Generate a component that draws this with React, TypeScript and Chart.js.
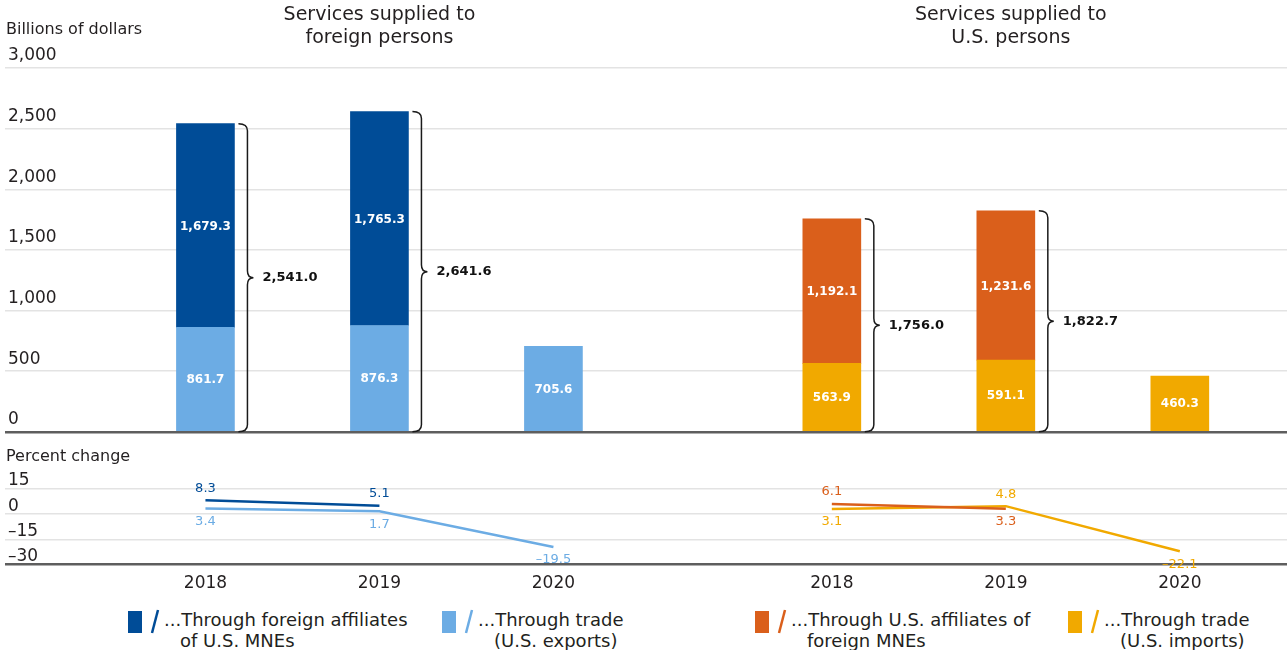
import React, { useEffect, useRef } from 'react';
import { Chart, registerables } from 'chart.js';

Chart.register(...registerables);

// ---------------- data ----------------
const years = ['2018', '2019', '2020'];
const foreignTitle = ['Services supplied to', 'foreign persons'];
const usTitle = ['Services supplied to', 'U.S. persons'];

const throughForeignAffiliates = [1679.3, 1765.3, null];
const throughExports = [861.7, 876.3, 705.6];
const throughUSAffiliates = [1192.1, 1231.6, null];
const throughImports = [563.9, 591.1, 460.3];

const foreignTotals = [2541.0, 2641.6, null];
const usTotals = [1756.0, 1822.7, null];

const foreignAffiliatesPct = [8.3, 5.1, null];
const exportsPct = [3.4, 1.7, -19.5];
const usAffiliatesPct = [6.1, 3.3, null];
const importsPct = [3.1, 4.8, -22.1];

const billionTicks = [0, 500, 1000, 1500, 2000, 2500, 3000];
const percentTicks = [-30, -15, 0, 15];

const legendLabels = [
  ['...Through foreign affiliates', 'of U.S. MNEs'],
  ['...Through trade', '(U.S. exports)'],
  ['...Through U.S. affiliates of', 'foreign MNEs'],
  ['...Through trade', '(U.S. imports)'],
];

// ---------------- style / layout ----------------
const FONT = "'DejaVu Sans', 'Open Sans', sans-serif";
const TEXT = '#231f20';
const GRID = '#e3e3e3';
const AXIS = '#5e5e5e';
const DARK_BLUE = '#004c97';
const LIGHT_BLUE = '#6cace4';
const ORANGE = '#da5f1b';
const GOLD = '#f1a900';
const legendColors = [DARK_BLUE, LIGHT_BLUE, ORANGE, GOLD];
const legendLeft = [128, 442, 755, 1068];

const GROUP_SHIFT = 3.6;
const X_MIN = -1.152;
const X_MAX = 6.216;
const xOf = (g: number, i: number) => g * GROUP_SHIFT + i;
const tickPositions = [0, 1, 2].map((i) => xOf(0, i)).concat([0, 1, 2].map((i) => xOf(1, i)));

const toPoints = (values: (number | null)[], g: number) =>
  values
    .map((v, i) => (v == null ? null : { x: xOf(g, i), y: v, i }))
    .filter((p) => p !== null) as { x: number; y: number; i: number }[];

const fmt1 = (v: number) =>
  (v < 0 ? '\u2013' : '') +
  Math.abs(v).toLocaleString('en-US', { minimumFractionDigits: 1, maximumFractionDigits: 1 });

function drawBrace(ctx: CanvasRenderingContext2D, x0: number, top: number, bottom: number) {
  const xv = x0 + 9;
  const xt = x0 + 15;
  const r = 7;
  const mid = (top + bottom) / 2;
  ctx.beginPath();
  ctx.moveTo(x0, top);
  ctx.quadraticCurveTo(xv, top, xv, top + r);
  ctx.lineTo(xv, mid - r);
  ctx.quadraticCurveTo(xv, mid, xt, mid);
  ctx.quadraticCurveTo(xv, mid, xv, mid + r);
  ctx.lineTo(xv, bottom - r);
  ctx.quadraticCurveTo(xv, bottom, x0, bottom);
  ctx.stroke();
}

const topPlugin = {
  id: 'topDecor',
  afterDatasetsDraw(chart: any) {
    const { ctx } = chart;
    const xs = chart.scales.x;
    const ys = chart.scales.y;
    ctx.save();
    // segment labels
    ctx.textAlign = 'center';
    ctx.textBaseline = 'middle';
    ctx.font = `bold 12px ${FONT}`;
    ctx.fillStyle = '#ffffff';
    chart.data.datasets.forEach((ds: any, di: number) => {
      const meta = chart.getDatasetMeta(di);
      meta.data.forEach((el: any, j: number) => {
        const p = ds.data[j];
        ctx.fillText(fmt1(p.y), el.x, (el.y + el.base) / 2 + 1);
      });
    });
    // braces with totals
    ctx.strokeStyle = '#1a1a1a';
    ctx.lineWidth = 1.5;
    ctx.fillStyle = '#111111';
    ctx.font = `bold 13px ${FONT}`;
    ctx.textAlign = 'left';
    chart.data.datasets.forEach((ds: any, di: number) => {
      if (!ds.totals) return;
      const meta = chart.getDatasetMeta(di);
      meta.data.forEach((el: any, j: number) => {
        const total = ds.totals[ds.data[j].i];
        if (total == null) return;
        const top = el.y;
        const bottom = ys.getPixelForValue(0);
        const x0 = el.x + el.width / 2 + 4;
        drawBrace(ctx, x0, top, bottom);
        ctx.fillText(fmt1(total), x0 + 24, (top + bottom) / 2);
      });
    });
    // titles
    ctx.fillStyle = TEXT;
    ctx.textAlign = 'center';
    ctx.font = `19px ${FONT}`;
    [foreignTitle, usTitle].forEach((lines, g) => {
      const cx = xs.getPixelForValue(xOf(g, 1)) + g * 5;
      lines.forEach((t, k) => ctx.fillText(t, cx, 15 + k * 23));
    });
    // unit label
    ctx.textAlign = 'left';
    ctx.font = `16px ${FONT}`;
    ctx.fillText('Billions of dollars', 6, 30);
    ctx.restore();
  },
};

const bottomPlugin = {
  id: 'bottomDecor',
  afterDatasetsDraw(chart: any) {
    const { ctx } = chart;
    ctx.save();
    ctx.textAlign = 'center';
    ctx.textBaseline = 'middle';
    ctx.font = `13px ${FONT}`;
    const dsets = chart.data.datasets;
    dsets.forEach((ds: any, di: number) => {
      const meta = chart.getDatasetMeta(di);
      meta.data.forEach((el: any, j: number) => {
        const p = ds.data[j];
        let other: number | null = null;
        dsets.forEach((o: any, oi: number) => {
          if (oi === di || o.group !== ds.group) return;
          const q = o.data.find((d: any) => d.x === p.x);
          if (q) other = q.y;
        });
        const above = other !== null && p.y > (other as number);
        ctx.fillStyle = ds.borderColor;
        ctx.fillText(fmt1(p.y), el.x, above ? el.y - 12 : el.y + 13);
      });
    });
    ctx.fillStyle = TEXT;
    ctx.textAlign = 'left';
    ctx.font = `16px ${FONT}`;
    ctx.fillText('Percent change', 6, 17);
    ctx.restore();
  },
};

const gridColor = (base: number) => (c: any) => (c.tick && c.tick.value === base ? AXIS : GRID);
const gridWidth = (base: number) => (c: any) => (c.tick && c.tick.value === base ? 2.5 : 1.5);

export default function App() {
  const topRef = useRef<HTMLCanvasElement>(null);
  const botRef = useRef<HTMLCanvasElement>(null);

  useEffect(() => {
    const barCommon = { barThickness: 58, stack: 's', borderWidth: 0 };
    const top = new Chart(topRef.current as HTMLCanvasElement, {
      type: 'bar',
      data: {
        datasets: [
          { ...barCommon, label: 'Through trade (U.S. exports)', data: toPoints(throughExports, 0), backgroundColor: LIGHT_BLUE },
          { ...barCommon, label: 'Through foreign affiliates of U.S. MNEs', data: toPoints(throughForeignAffiliates, 0), backgroundColor: DARK_BLUE, totals: foreignTotals },
          { ...barCommon, label: 'Through trade (U.S. imports)', data: toPoints(throughImports, 1), backgroundColor: GOLD },
          { ...barCommon, label: 'Through U.S. affiliates of foreign MNEs', data: toPoints(throughUSAffiliates, 1), backgroundColor: ORANGE, totals: usTotals },
        ] as any,
      },
      options: {
        responsive: false,
        maintainAspectRatio: false,
        animation: false,
        layout: { padding: { top: 68, bottom: 9, left: -1, right: 0 } },
        plugins: { legend: { display: false }, tooltip: { enabled: false } },
        scales: {
          x: { type: 'linear', min: X_MIN, max: X_MAX, stacked: true, offset: false, display: false, grid: { offset: false } },
          y: {
            stacked: true,
            min: 0,
            max: 3000,
            afterBuildTicks: (s: any) => {
              s.ticks = billionTicks.map((v) => ({ value: v }));
            },
            ticks: {
              autoSkip: false,
              mirror: true,
              labelOffset: -12,
              padding: 3,
              color: TEXT,
              font: { family: FONT, size: 17 },
              callback: (v: any) => Number(v).toLocaleString('en-US'),
            },
            grid: { drawTicks: false, color: gridColor(0), lineWidth: gridWidth(0) },
            border: { display: false },
          },
        },
      } as any,
      plugins: [topPlugin],
    });

    const lineCommon = { borderWidth: 2.5, pointRadius: 0, tension: 0, fill: false };
    const bot = new Chart(botRef.current as HTMLCanvasElement, {
      type: 'line',
      data: {
        datasets: [
          { ...lineCommon, label: 'Through foreign affiliates of U.S. MNEs', data: toPoints(foreignAffiliatesPct, 0), borderColor: DARK_BLUE, group: 0 },
          { ...lineCommon, label: 'Through trade (U.S. exports)', data: toPoints(exportsPct, 0), borderColor: LIGHT_BLUE, group: 0 },
          { ...lineCommon, label: 'Through U.S. affiliates of foreign MNEs', data: toPoints(usAffiliatesPct, 1), borderColor: ORANGE, group: 1 },
          { ...lineCommon, label: 'Through trade (U.S. imports)', data: toPoints(importsPct, 1), borderColor: GOLD, group: 1 },
        ] as any,
      },
      options: {
        responsive: false,
        maintainAspectRatio: false,
        animation: false,
        layout: { padding: { top: 49, bottom: 8, left: -1, right: 0 } },
        plugins: { legend: { display: false }, tooltip: { enabled: false } },
        scales: {
          x: {
            type: 'linear',
            min: X_MIN,
            max: X_MAX,
            offset: false,
            afterBuildTicks: (s: any) => {
              s.ticks = tickPositions.map((v) => ({ value: v }));
            },
            ticks: {
              autoSkip: false,
              maxRotation: 0,
              padding: 1,
              color: TEXT,
              font: { family: FONT, size: 17 },
              callback: (v: any) => {
                const k = tickPositions.findIndex((t) => Math.abs(t - Number(v)) < 1e-6);
                return k >= 0 ? years[k % 3] : '';
              },
            },
            grid: { display: false },
            border: { display: false },
          },
          y: {
            min: -30,
            max: 15,
            afterBuildTicks: (s: any) => {
              s.ticks = percentTicks.map((v) => ({ value: v }));
            },
            ticks: {
              autoSkip: false,
              mirror: true,
              labelOffset: -8,
              padding: 3,
              color: TEXT,
              font: { family: FONT, size: 17 },
              callback: (v: any) => (Number(v) < 0 ? '\u2013' + Math.abs(Number(v)) : String(v)),
            },
            grid: { drawTicks: false, color: gridColor(-30), lineWidth: gridWidth(-30) },
            border: { display: false },
          },
        },
      } as any,
      plugins: [bottomPlugin],
    });

    return () => {
      top.destroy();
      bot.destroy();
    };
  }, []);

  return (
    <div
      style={{
        position: 'fixed',
        left: 0,
        top: 0,
        width: 1287,
        height: 650,
        background: '#ffffff',
        overflow: 'hidden',
        fontFamily: FONT,
        color: TEXT,
      }}
    >
      <canvas ref={topRef} width={1287} height={445} style={{ position: 'absolute', left: 0, top: 0 }} />
      <canvas ref={botRef} width={1287} height={163} style={{ position: 'absolute', left: 0, top: 440 }} />
      {legendLabels.map((lines, k) => (
        <div
          key={k}
          style={{ position: 'absolute', left: legendLeft[k], top: 609, display: 'flex', alignItems: 'flex-start' }}
        >
          <svg width={36} height={26} style={{ flex: 'none' }}>
            <rect x={0} y={2} width={14} height={22} fill={legendColors[k]} />
            <line x1={30} y1={1} x2={24} y2={24} stroke={legendColors[k]} strokeWidth={2.5} />
          </svg>
          <div style={{ fontSize: 18, lineHeight: '21px', whiteSpace: 'nowrap', marginLeft: 0 }}>
            <div>{lines[0]}</div>
            <div style={{ paddingLeft: 16 }}>{lines[1]}</div>
          </div>
        </div>
      ))}
    </div>
  );
}
